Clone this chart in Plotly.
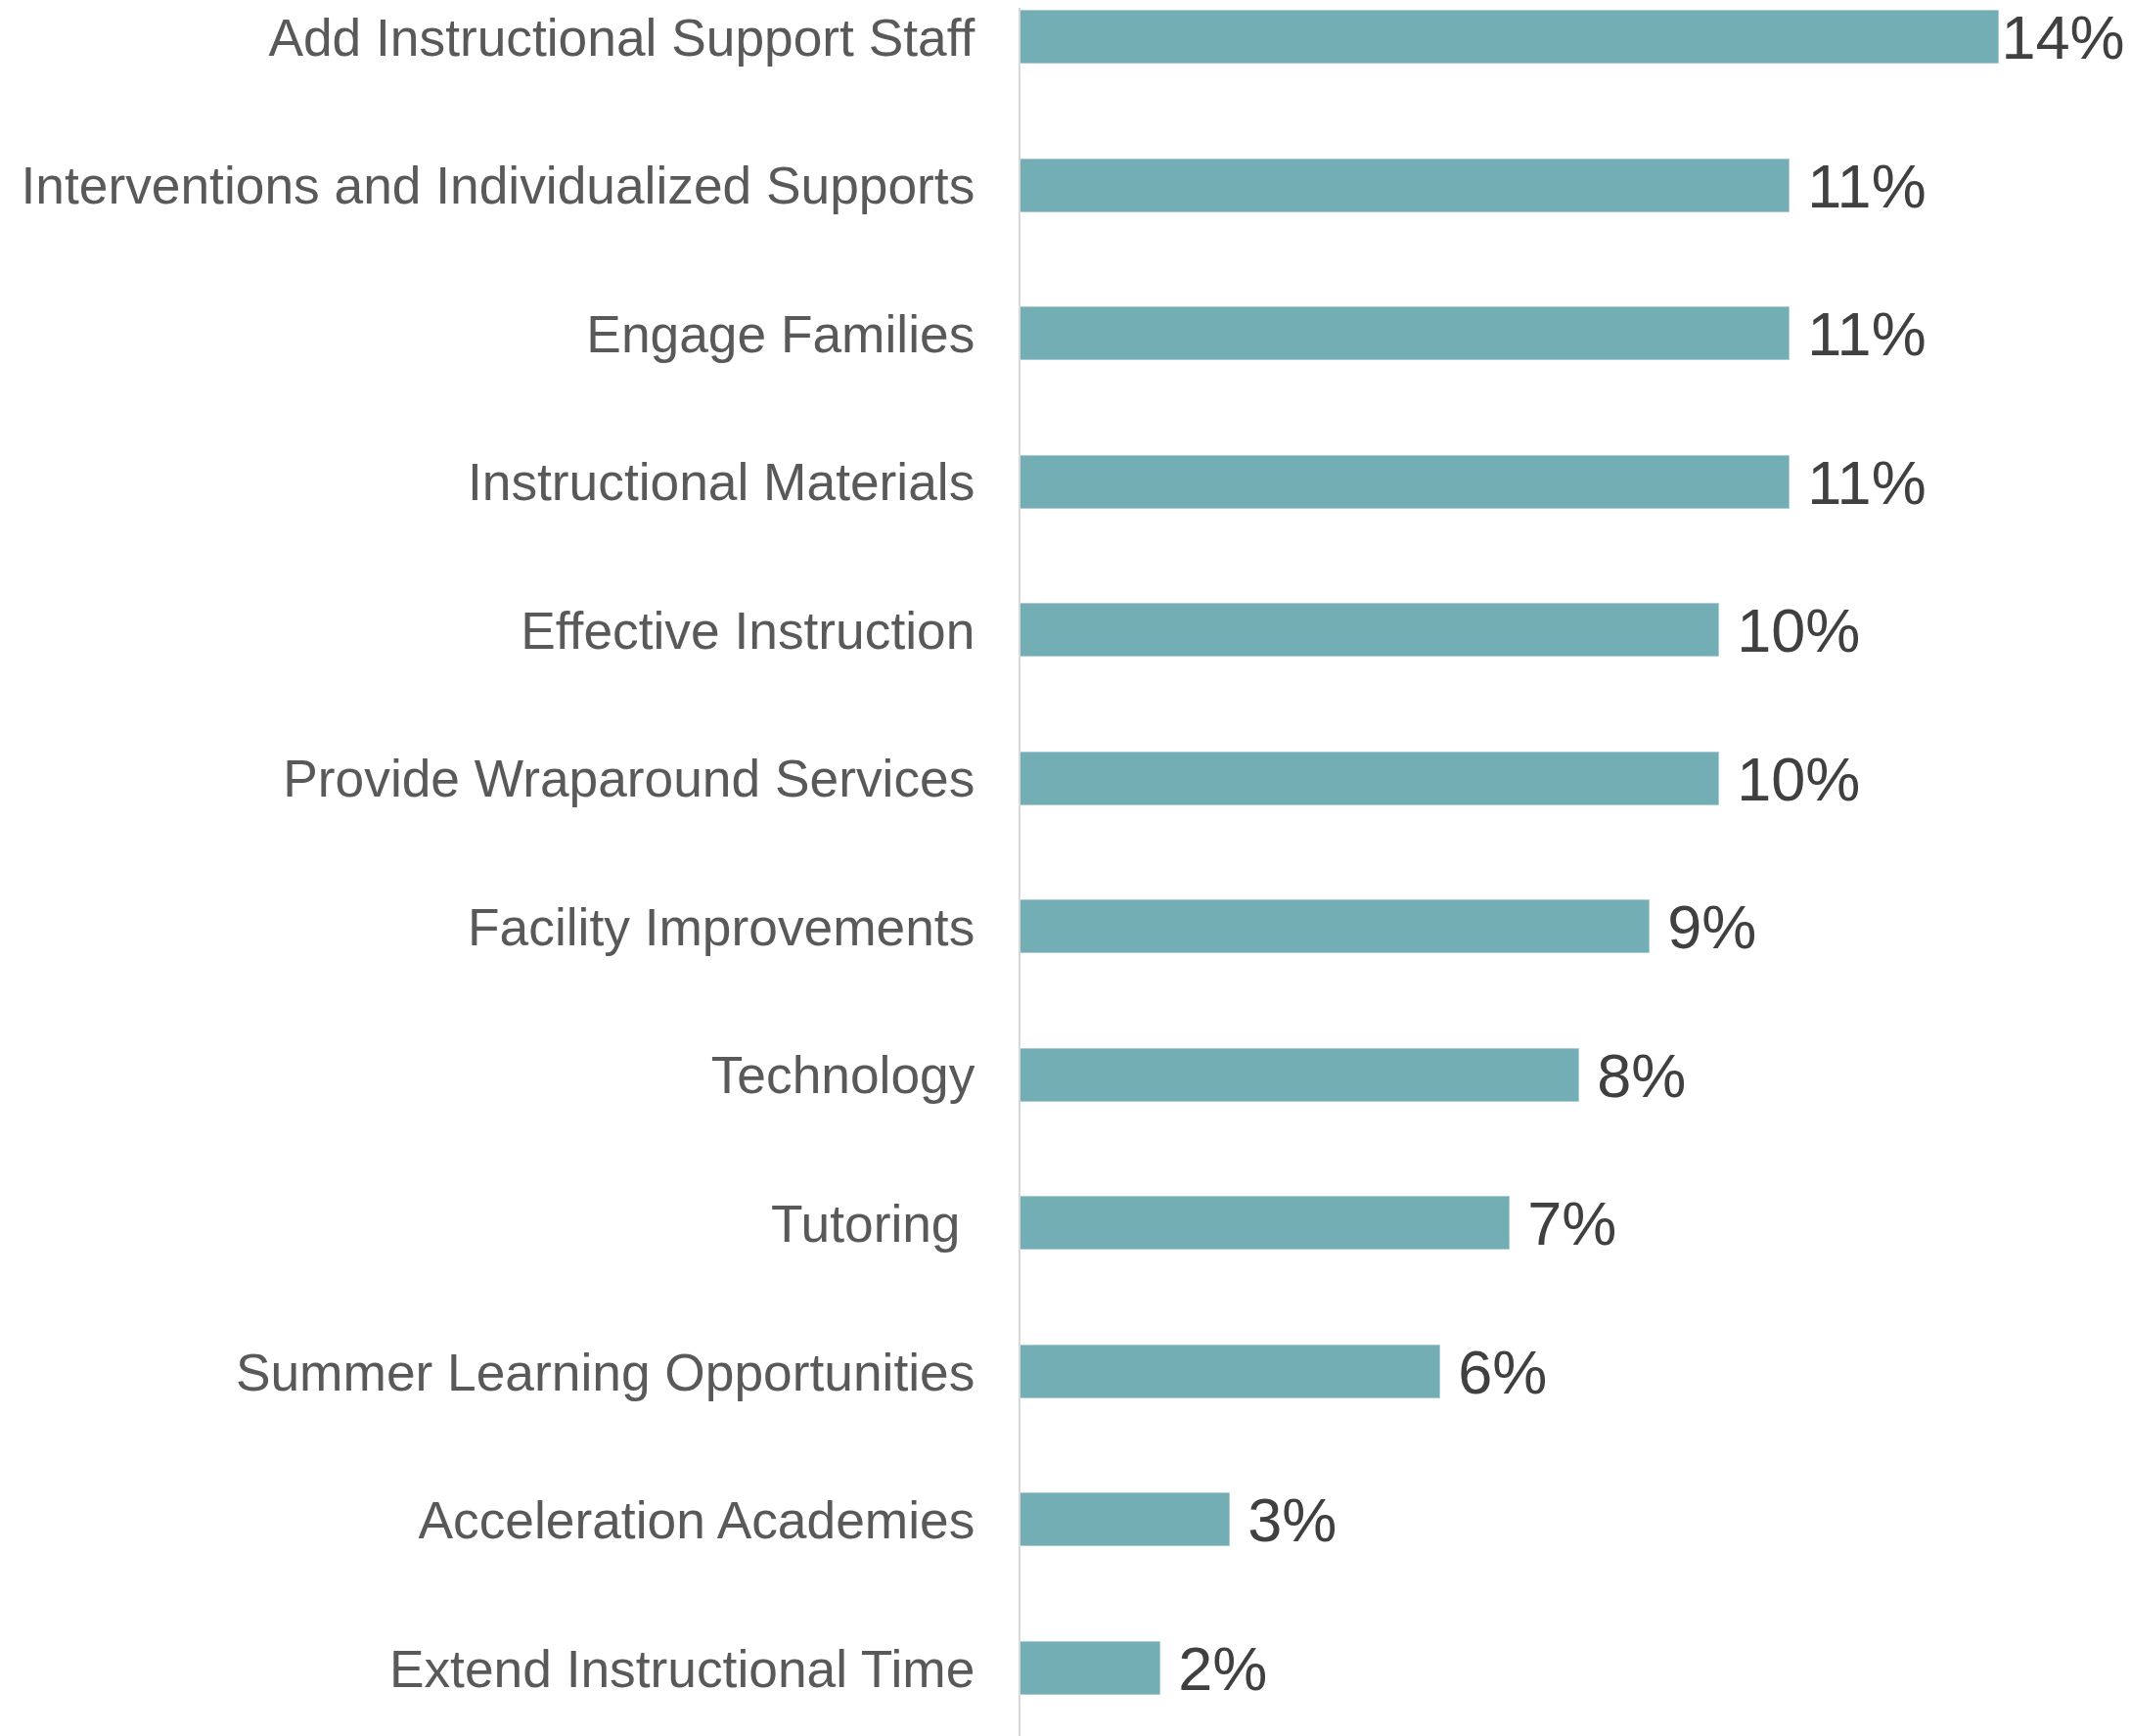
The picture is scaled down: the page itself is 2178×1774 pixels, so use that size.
import plotly.graph_objects as go

categories = [
    "Add Instructional Support Staff",
    "Interventions and Individualized Supports",
    "Engage Families",
    "Instructional Materials",
    "Effective Instruction",
    "Provide Wraparound Services",
    "Facility Improvements",
    "Technology",
    "Tutoring\u00a0",
    "Summer Learning Opportunities",
    "Acceleration Academies",
    "Extend Instructional Time",
]
values = [14, 11, 11, 11, 10, 10, 9, 8, 7, 6, 3, 2]

W, H = 2178, 1774
OFF = 8  # default page body margin
LEFT = 1043 - OFF
px_per_unit = 1000 / 14.0
x_max = (W - LEFT) / px_per_unit

c0, c11 = 38 - OFF, 1705 - OFF
spacing = (c11 - c0) / 11.0
y_top = -c0 / spacing
y_bot = 11 + (H - c11) / spacing

# the longest bar's label sits closer to its bar so it fits inside the picture
templates = ["%{text}" if v == max(values) else "\u2005%{text}" for v in values]

fig = go.Figure()
fig.add_trace(go.Bar(
    x=values,
    y=categories,
    orientation="h",
    width=54 / spacing,
    marker=dict(color="#73AEB5", line=dict(color="#A9CDD2", width=1)),
    text=[f"{v}%" for v in values],
    texttemplate=templates,
    textposition="outside",
    constraintext="none",
    cliponaxis=False,
    textfont=dict(family="Liberation Sans, Arial, sans-serif", size=63, color="#404040"),
    hoverinfo="skip",
))

fig.update_layout(
    width=W, height=H,
    margin=dict(l=LEFT, r=0, t=0, b=0, pad=0),
    paper_bgcolor="white", plot_bgcolor="white",
    showlegend=False,
    bargap=0,
    xaxis=dict(range=[0, x_max], visible=False, showgrid=False, zeroline=False),
    yaxis=dict(
        type="category",
        categoryorder="array", categoryarray=categories,
        range=[y_bot, y_top],
        showgrid=False, zeroline=False,
        showline=True, linecolor="#D9D9D9", linewidth=2,
        ticks="", ticklabelstandoff=34,
        tickfont=dict(family="Liberation Sans, Arial, sans-serif", size=53.3, color="#595959"),
    ),
)

fig.write_html("out.html")
